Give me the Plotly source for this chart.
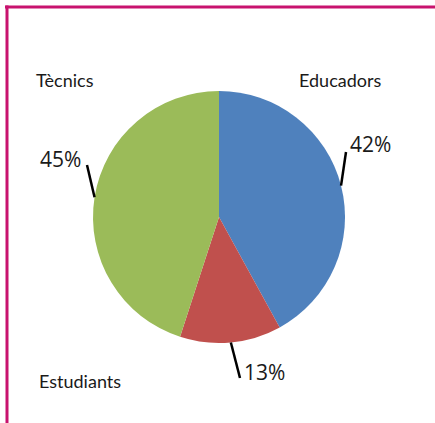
import math
import plotly.graph_objects as go

categories = ["Educadors", "Estudiants", "Tècnics"]
values = [42, 13, 45]
colors = ["#4F81BD", "#C0504D", "#9BBB59"]

W, H = 435, 423
# pie geometry in pixels
cx, cy, r = 219, 217, 126

# where the category names and the percentage labels sit (pixels)
name_pos = {"Educadors": (340, 80), "Estudiants": (80, 381), "Tècnics": (65, 80)}
pct_pos = {"Educadors": (370, 144), "Estudiants": (264, 372), "Tècnics": (60, 159)}
# end of each leader line (pixels)
leader_end = {"Educadors": (346, 152), "Estudiants": (240, 378), "Tècnics": (87, 165)}

def px(x):
    return x / W

def py(y):
    return 1 - y / H

fig = go.Figure(go.Pie(
    labels=categories,
    values=values,
    sort=False,
    direction="clockwise",
    rotation=0,
    marker=dict(colors=colors, line=dict(width=0)),
    textinfo="none",
    hoverinfo="skip",
    showlegend=False,
    domain=dict(x=[px(cx - r), px(cx + r)], y=[py(cy + r), py(cy - r)]),
))

total = sum(values)
shapes = []
annotations = []
cum = 0
for cat, v in zip(categories, values):
    mid = (cum + v / 2) / total * 2 * math.pi
    cum += v
    sx = cx + r * math.sin(mid)
    sy = cy - r * math.cos(mid)
    ex, ey = leader_end[cat]
    shapes.append(dict(type="line", xref="paper", yref="paper",
                       x0=px(sx), y0=py(sy), x1=px(ex), y1=py(ey),
                       line=dict(color="#000000", width=2.5)))
    pct = round(v / total * 100)
    tx, ty = pct_pos[cat]
    annotations.append(dict(x=px(tx), y=py(ty), xref="paper", yref="paper",
                            text=f"{pct}%", showarrow=False,
                            font=dict(family="Open Sans", size=21, color="#1a1a1a"),
                            xanchor="center", yanchor="middle"))
    nx, ny = name_pos[cat]
    annotations.append(dict(x=px(nx), y=py(ny), xref="paper", yref="paper",
                            text=cat, showarrow=False,
                            font=dict(family="Lato", size=18, color="#1a1a1a"),
                            xanchor="center", yanchor="middle"))

# magenta frame along the top and left edges
border = "#C8136E"
shapes.append(dict(type="line", xref="paper", yref="paper",
                   x0=px(5), y0=py(7), x1=1, y1=py(7),
                   line=dict(color=border, width=3)))
shapes.append(dict(type="line", xref="paper", yref="paper",
                   x0=px(7), y0=py(5.5), x1=px(7), y1=0,
                   line=dict(color=border, width=3)))

fig.update_layout(
    width=W, height=H,
    margin=dict(l=0, r=0, t=0, b=0),
    paper_bgcolor="white",
    plot_bgcolor="white",
    shapes=shapes,
    annotations=annotations,
)

fig.write_html("out.html")
